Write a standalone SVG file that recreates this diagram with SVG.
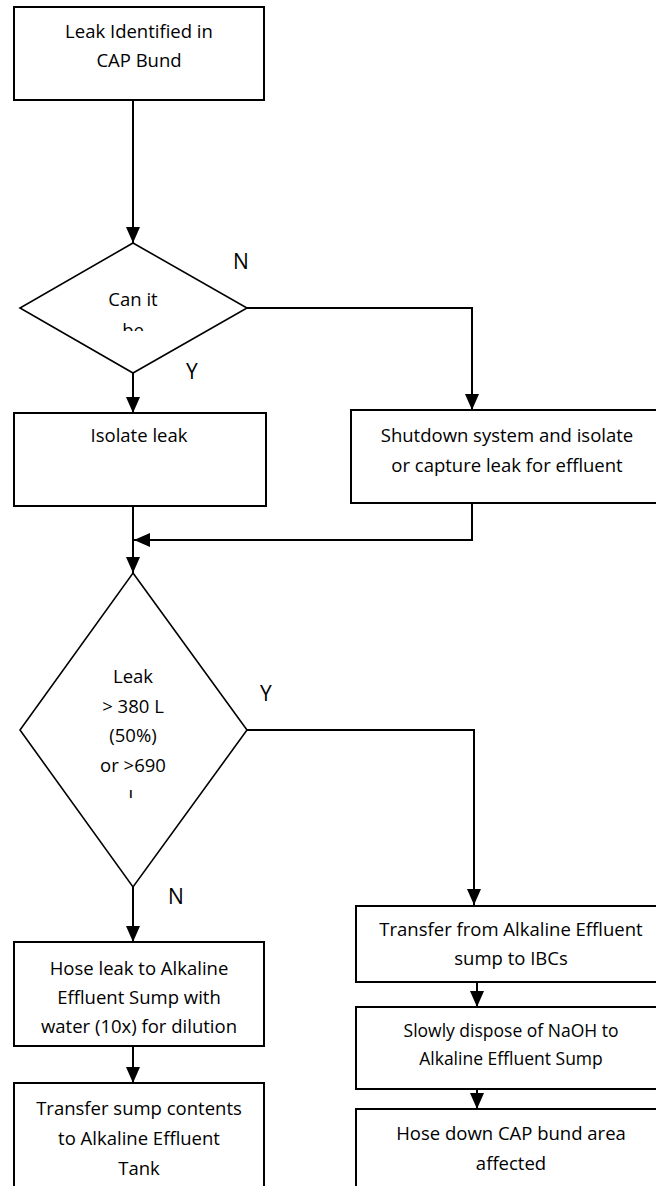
<svg xmlns="http://www.w3.org/2000/svg" width="656" height="1186" viewBox="0 0 656 1186">
  <style>
    .box { fill: #ffffff; stroke: #000000; stroke-width: 2; }
    .dia { fill: #ffffff; stroke: #000000; stroke-width: 1.6; }
    .lbl { font-family: "Open Sans", "Liberation Sans", sans-serif; font-size: 18.5px; fill: #000000; text-anchor: middle; }
    .sm { font-size: 17.5px; }
    .yn { font-family: "Open Sans", "Liberation Sans", sans-serif; font-size: 21px; fill: #000000; }
    .wire { fill: none; stroke: #000000; stroke-width: 2; }
  </style>
  <defs>
    <marker id="head" markerUnits="userSpaceOnUse" markerWidth="16" markerHeight="16" viewBox="0 0 16 16" refX="16" refY="8" orient="auto">
      <path d="M0,1 L16,8 L0,15 Z" fill="#000000"/>
    </marker>
    <clipPath id="clipCan"><rect x="40" y="280" width="190" height="51"/></clipPath>
    <clipPath id="clipLeak"><rect x="40" y="650" width="190" height="148"/></clipPath>
  </defs>
  <rect width="656" height="1186" fill="#ffffff"/>

  <g id="connectors">
    <path class="wire" d="M133,100 V243" marker-end="url(#head)"/>
    <path class="wire" d="M247,308 H472 V410" marker-end="url(#head)"/>
    <path class="wire" d="M133,373 V413" marker-end="url(#head)"/>
    <path class="wire" d="M472,503 V540 H134" marker-end="url(#head)"/>
    <path class="wire" d="M133,506 V573" marker-end="url(#head)"/>
    <path class="wire" d="M247,730 H474 V905" marker-end="url(#head)"/>
    <path class="wire" d="M133,887 V942" marker-end="url(#head)"/>
    <path class="wire" d="M133,1046 V1083" marker-end="url(#head)"/>
    <path class="wire" d="M477,982 V1007" marker-end="url(#head)"/>
    <path class="wire" d="M477,1089 V1109" marker-end="url(#head)"/>
  </g>

  <g id="leak-identified">
    <rect class="box" x="14" y="7" width="250" height="93"/>
    <text class="lbl" x="139" y="38">Leak Identified in</text>
    <text class="lbl" x="139" y="67">CAP Bund</text>
  </g>

  <g id="can-isolate">
    <polygon class="dia" points="133,243 247,308 133,373 20,308"/>
    <g clip-path="url(#clipCan)">
      <text class="lbl" x="133" y="306">Can it</text>
      <text class="lbl" x="133" y="337">be</text>
    </g>
    <text class="yn" x="233" y="269">N</text>
    <text class="yn" x="186" y="379">Y</text>
  </g>

  <g id="isolate-leak">
    <rect class="box" x="14" y="413" width="252" height="93"/>
    <text class="lbl" x="139" y="442">Isolate leak</text>
  </g>

  <g id="shutdown">
    <rect class="box" x="351" y="410" width="313" height="93"/>
    <text class="lbl" x="507" y="442">Shutdown system and isolate</text>
    <text class="lbl" x="507" y="472">or capture leak for effluent</text>
  </g>

  <g id="leak-volume">
    <polygon class="dia" points="133,573 247,730 133,887 20,730"/>
    <g clip-path="url(#clipLeak)">
      <text class="lbl" x="133" y="683">Leak</text>
      <text class="lbl" x="133" y="713">&gt; 380 L</text>
      <text class="lbl" x="133" y="742">(50%)</text>
      <text class="lbl" x="133" y="772">or &gt;690</text>
      <text class="lbl" x="133" y="803">L</text>
    </g>
    <text class="yn" x="260" y="701">Y</text>
    <text class="yn" x="168" y="904">N</text>
  </g>

  <g id="hose-leak">
    <rect class="box" x="14" y="942" width="250" height="104"/>
    <text class="lbl" x="139" y="975">Hose leak to Alkaline</text>
    <text class="lbl" x="139" y="1004">Effluent Sump with</text>
    <text class="lbl" x="139" y="1033">water (10x) for dilution</text>
  </g>

  <g id="transfer-sump">
    <rect class="box" x="14" y="1083" width="250" height="120"/>
    <text class="lbl" x="139" y="1115">Transfer sump contents</text>
    <text class="lbl" x="139" y="1145">to Alkaline Effluent</text>
    <text class="lbl" x="139" y="1175">Tank</text>
  </g>

  <g id="transfer-ibc">
    <rect class="box" x="356" y="906" width="312" height="76"/>
    <text class="lbl" x="511" y="936">Transfer from Alkaline Effluent</text>
    <text class="lbl" x="511" y="965">sump to IBCs</text>
  </g>

  <g id="dispose-naoh">
    <rect class="box" x="356" y="1007" width="312" height="82"/>
    <text class="lbl sm" x="511" y="1037">Slowly dispose of NaOH to</text>
    <text class="lbl sm" x="511" y="1065">Alkaline Effluent Sump</text>
  </g>

  <g id="hose-down">
    <rect class="box" x="356" y="1109" width="312" height="100"/>
    <text class="lbl" x="511" y="1140">Hose down CAP bund area</text>
    <text class="lbl" x="511" y="1170">affected</text>
  </g>
</svg>
